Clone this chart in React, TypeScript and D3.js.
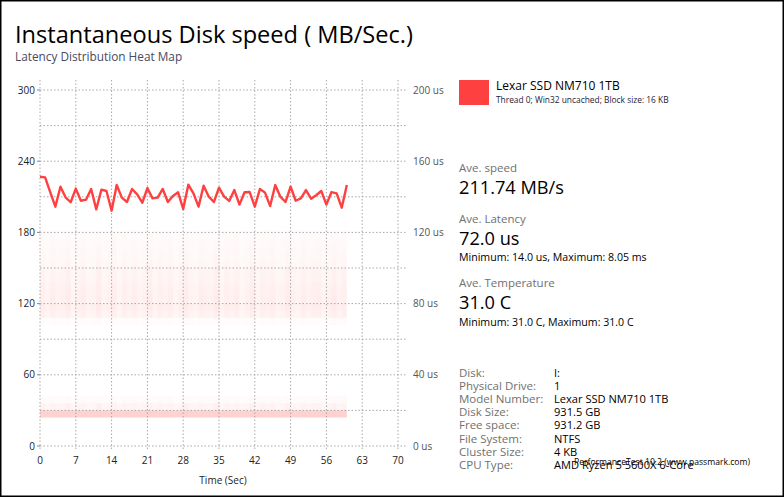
import React from "react";
import * as d3 from "d3";

const W = 784;
const H = 497;

// Instantaneous speed (MB/s), one point per second, t = 0..60
const speed: number[] = [
  226.9, 226.4, 214.0, 201.7, 218.5, 209.6, 205.4, 216.9, 206.7, 207.6,
  216.6, 199.4, 216.0, 214.9, 198.3, 219.9, 209.3, 205.6, 216.6, 212.1,
  205.0, 217.4, 208.7, 209.3, 216.6, 205.6, 210.7, 213.8, 199.7, 220.2,
  212.9, 201.7, 219.4, 210.1, 205.6, 217.7, 210.1, 206.5, 215.7, 203.4,
  213.8, 214.0, 201.7, 216.6, 213.5, 202.2, 219.9, 210.1, 205.6, 218.5,
  206.7, 208.7, 215.7, 208.4, 211.3, 214.9, 203.4, 214.0, 212.9, 200.8,
  219.9,
];

// Latency heat map rows: bin lower/upper bound in microseconds, base intensity
const binLow: number[] = [16, 20, 24, 68, 72, 76, 80, 84, 88, 92, 96, 100, 104, 108, 112, 116, 120];
const binHigh: number[] = [20, 24, 28, 72, 76, 80, 84, 88, 92, 96, 100, 104, 108, 112, 116, 120, 124];
const binLevel: number[] = [0.24, 0.06, 0.025, 0.02, 0.07, 0.085, 0.08, 0.075, 0.07, 0.06, 0.06, 0.045, 0.04, 0.035, 0.03, 0.025, 0.01];
// per-second column variation of the heat map (60 seconds)
const colLevel: number[] = [
  1.1, 0.8, 1.2, 0.9, 1.0, 1.3, 0.7, 1.0, 1.2, 0.8,
  0.9, 1.3, 0.8, 1.0, 1.2, 0.7, 1.1, 0.9, 1.2, 0.8,
  1.0, 1.3, 0.8, 1.1, 0.9, 1.2, 0.7, 1.0, 1.3, 0.9,
  0.8, 1.2, 1.0, 0.9, 1.3, 0.8, 1.1, 0.9, 1.2, 0.7,
  1.0, 1.3, 0.8, 1.1, 1.0, 1.2, 0.8, 0.9, 1.3, 1.0,
  0.8, 1.2, 0.9, 1.1, 1.2, 0.8, 1.0, 1.3, 0.9, 1.1,
];

const xTicks: number[] = [0, 7, 14, 21, 28, 35, 42, 49, 56, 63, 70];
const yTicks: number[] = [0, 60, 120, 180, 240, 300];
const yGrid: number[] = [0, 30, 60, 90, 120, 150, 180, 210, 240, 270, 300];
const y2Ticks: number[] = [0, 40, 80, 120, 160, 200];

const legendName = "Lexar SSD NM710 1TB";
const legendSub = "Thread 0; Win32 uncached; Block size: 16 KB";

const infoLabels: string[] = ["Disk:", "Physical Drive:", "Model Number:", "Disk Size:", "Free space:", "File System:", "Cluster Size:", "CPU Type:"];
const infoValues: string[] = ["I:", "1", "Lexar SSD NM710 1TB", "931.5 GB", "931.2 GB", "NTFS", "4 KB", "AMD Ryzen 5 5600X 6-Core"];

const FONT = "'Open Sans', 'Noto Sans', sans-serif";
const RED = "#ff4040";

export default function App() {
  const x = d3.scaleLinear().domain([0, 70]).range([40, 398]);
  const y = d3.scaleLinear().domain([0, 300]).range([446, 90]);
  const y2 = d3.scaleLinear().domain([0, 200]).range([446, 90]);
  const line = d3
    .line<number>()
    .x((_, i) => x(i))
    .y((d) => y(d))
    .curve(d3.curveLinear);

  const cells: JSX.Element[] = [];
  colLevel.forEach((c, ci) => {
    binLow.forEach((lo, bi) => {
      const a = Math.min(0.35, binLevel[bi] * (bi === 0 ? Math.min(1.05, 0.9 + c * 0.1) : c));
      cells.push(
        <rect
          key={`${ci}-${bi}`}
          x={x(ci)}
          y={y2(binHigh[bi])}
          width={x(ci + 1) - x(ci)}
          height={y2(lo) - y2(binHigh[bi])}
          fill={RED}
          fillOpacity={a}
        />
      );
    });
  });

  const gridStroke = "#a8a8a8";
  const dash = "1.5,2";

  return (
    <div style={{ position: "fixed", left: 0, top: 0, width: W, height: H, background: "#fff" }}>
      <svg width={W} height={H} style={{ display: "block", fontFamily: FONT }}>
        <rect x={0.75} y={0.75} width={W - 1.5} height={H - 1.5} fill="#fff" stroke="#000" strokeWidth={1.5} />
        <text x={15} y={43} fontSize={23.6} fill="#000">Instantaneous Disk speed ( MB/Sec.)</text>
        <text x={15} y={61} fontSize={11.8} fill="#4a4a5e">Latency Distribution Heat Map</text>

        {/* heat map */}
        <g>{cells}</g>

        {/* grid */}
        {yGrid.map((v) => (
          <line key={"h" + v} x1={40} x2={406} y1={y(v)} y2={y(v)} stroke={gridStroke} strokeDasharray={dash} />
        ))}
        {xTicks.map((v) => (
          <line key={"v" + v} x1={x(v)} x2={x(v)} y1={80} y2={449} stroke={gridStroke} strokeDasharray={dash} />
        ))}
        {yTicks.map((v) => (
          <line key={"yt" + v} x1={37} x2={40} y1={y(v)} y2={y(v)} stroke="#888" />
        ))}

        {/* left axis labels */}
        {yTicks.map((v) => (
          <text key={"yl" + v} x={35} y={y(v) + 3.5} fontSize={10} textAnchor="end" fill="#222">{v}</text>
        ))}
        {/* right axis labels */}
        {y2Ticks.map((v) => (
          <text key={"yr" + v} x={413} y={y2(v) + 3.5} fontSize={10} fill="#555">{v} us</text>
        ))}
        {/* x axis labels */}
        {xTicks.map((v) => (
          <text key={"xl" + v} x={x(v)} y={464} fontSize={10} textAnchor="middle" fill="#222">{v}</text>
        ))}
        <text x={223} y={484} fontSize={10} textAnchor="middle" fill="#222">Time (Sec)</text>

        {/* speed line */}
        <path d={line(speed) || ""} fill="none" stroke={RED} strokeWidth={2.4} strokeLinejoin="round" />

        {/* legend */}
        <rect x={459} y={80} width={30} height={25} fill={RED} />
        <text x={496} y={90} fontSize={12} fill="#000">{legendName}</text>
        <text x={496} y={103} fontSize={8.4} fill="#1a1a3a">{legendSub}</text>

        {/* stats */}
        <text x={459} y={172} fontSize={11.5} fill="#707070">Ave. speed</text>
        <text x={459} y={194} fontSize={18.2} fill="#000">211.74 MB/s</text>
        <text x={459} y={223} fontSize={11.5} fill="#707070">Ave. Latency</text>
        <text x={459} y={245} fontSize={18.2} fill="#000">72.0 us</text>
        <text x={459} y={261} fontSize={10.6} fill="#000">Minimum: 14.0 us, Maximum: 8.05 ms</text>
        <text x={459} y={287} fontSize={11.5} fill="#707070">Ave. Temperature</text>
        <text x={459} y={309} fontSize={18.2} fill="#000">31.0 C</text>
        <text x={459} y={326} fontSize={10.6} fill="#000">Minimum: 31.0 C, Maximum: 31.0 C</text>

        {/* info table */}
        {infoLabels.map((l, i) => (
          <text key={"il" + i} x={459} y={377 + i * 13.1} fontSize={11.5} fill="#707070">{l}</text>
        ))}
        {infoValues.map((v, i) => (
          <text key={"iv" + i} x={554} y={377 + i * 13.1} fontSize={11.1} fill="#000">{v}</text>
        ))}
        <text x={574} y={465} fontSize={8.6} fill="#000">PerformanceTest 10.2 (www.passmark.com)</text>
      </svg>
    </div>
  );
}
